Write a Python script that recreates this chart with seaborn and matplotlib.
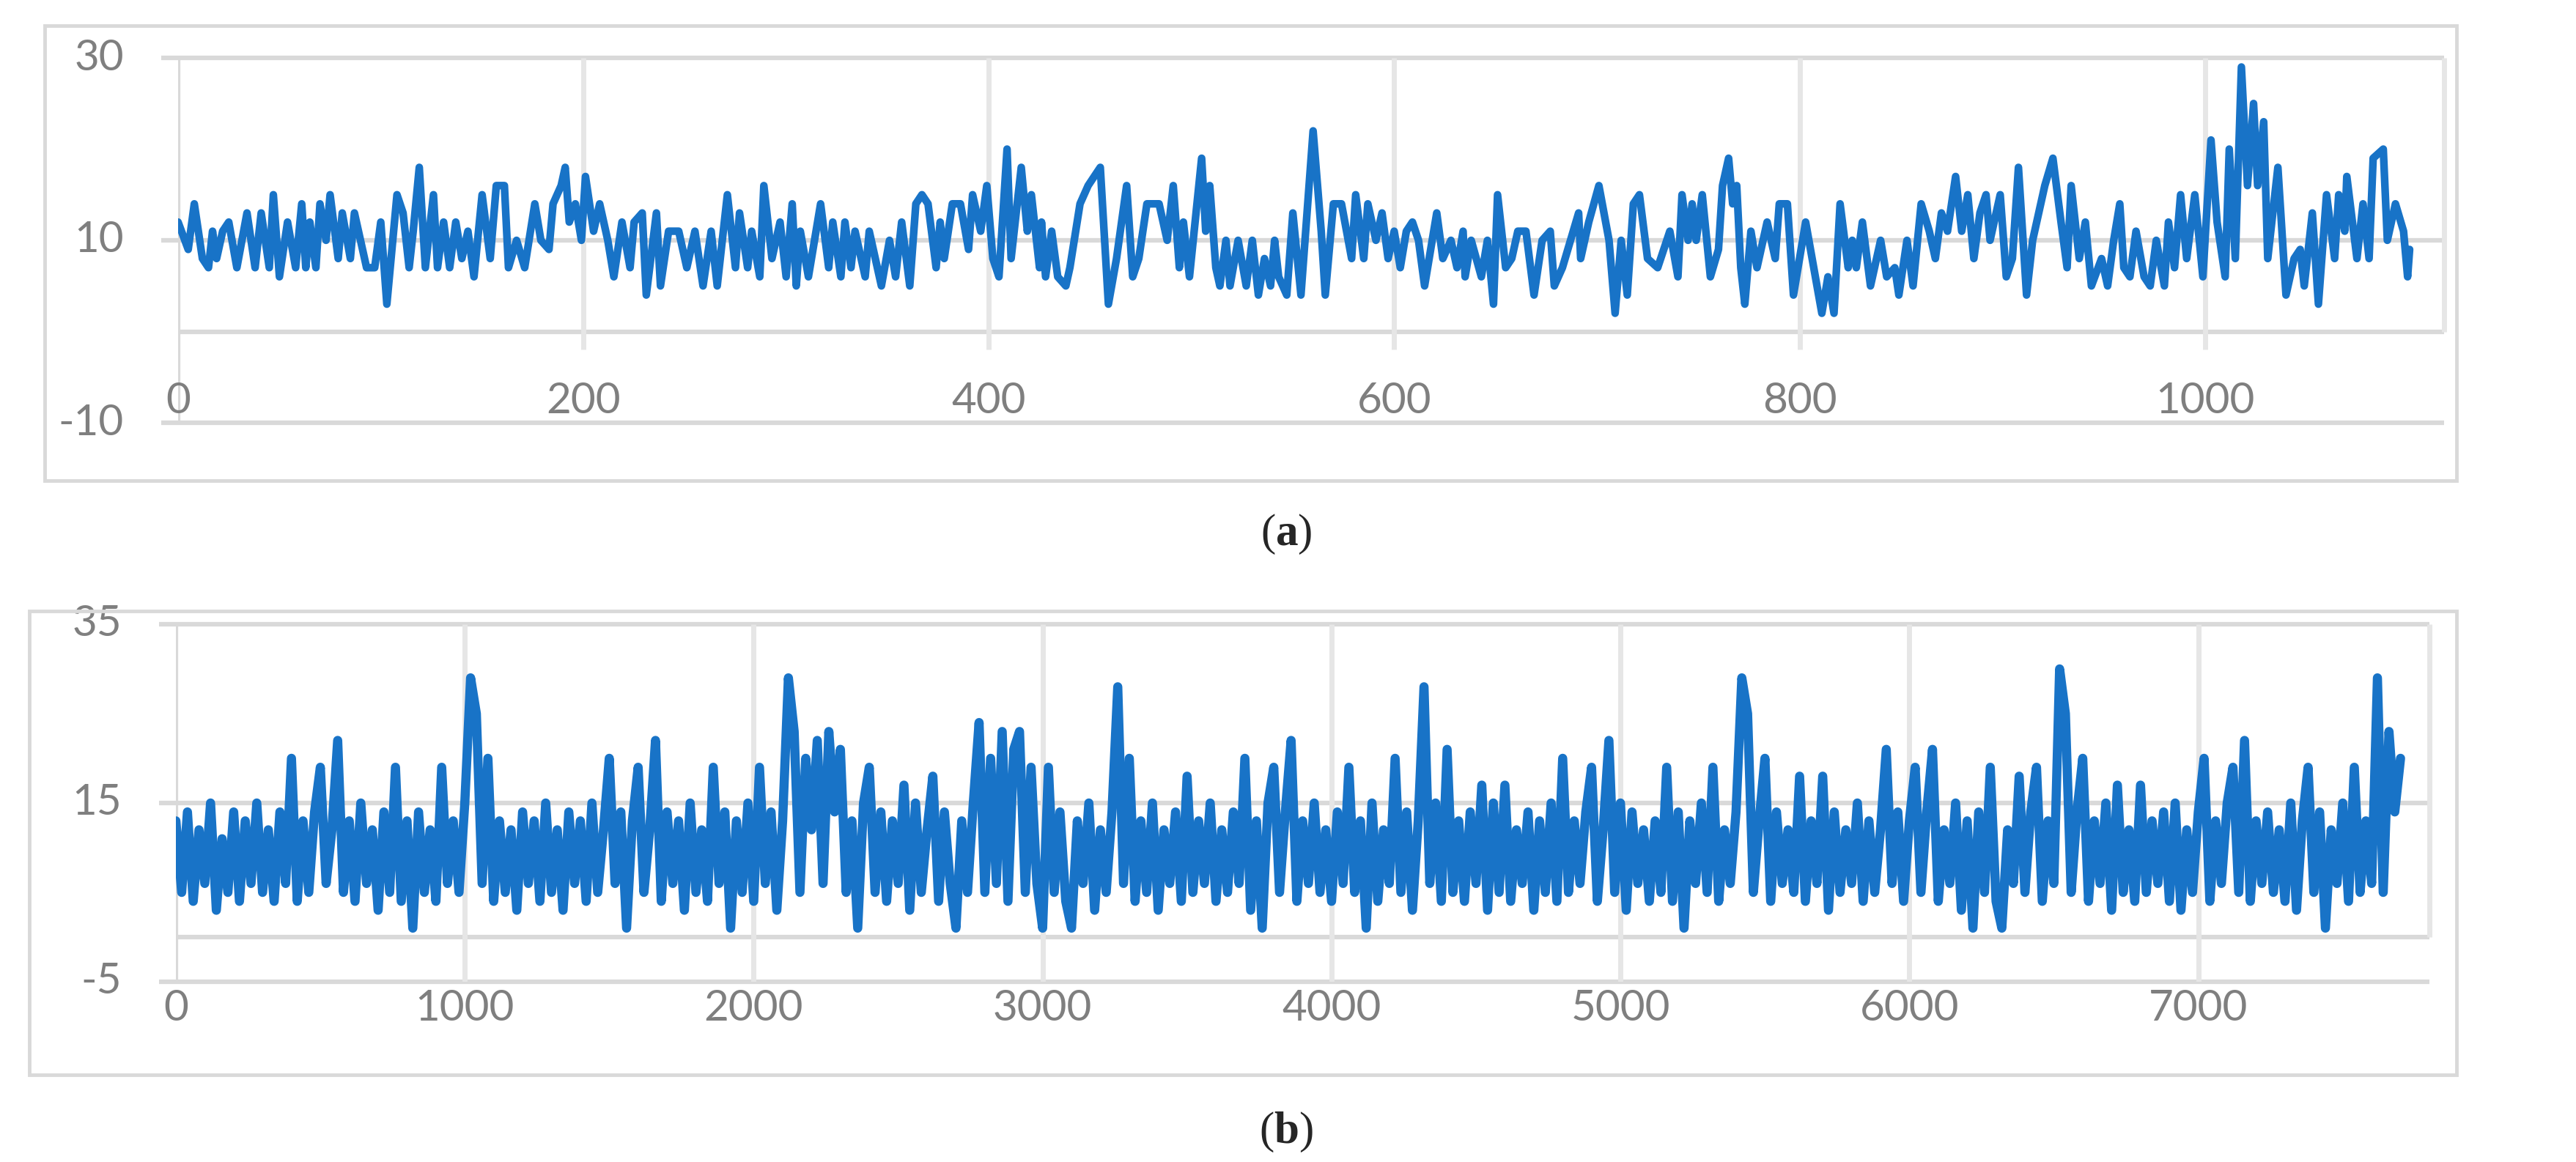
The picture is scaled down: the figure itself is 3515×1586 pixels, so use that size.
import matplotlib
matplotlib.use("Agg")
import matplotlib.pyplot as plt
import seaborn as sns
import pandas as pd

sns.set_style("white")
plt.rcParams['font.family'] = ['Lato', 'DejaVu Sans']
plt.rcParams['mathtext.fontset'] = 'custom'
plt.rcParams['mathtext.rm'] = 'Liberation Serif'
plt.rcParams['mathtext.bf'] = 'Liberation Serif:bold'

# panel (a): values (index, value)
a_t = [0, 5, 8, 12, 15, 17, 19, 22, 25, 29, 34, 38, 41, 45, 47, 50, 54, 58, 61, 63,
       65, 68, 70, 73, 75, 79, 81, 85, 87, 90, 93, 97, 100, 103, 108, 111, 114, 116, 119, 122,
       126, 128, 131, 134, 137, 140, 143, 146, 150, 154, 157, 161, 163, 167, 171, 176, 179, 183, 185, 189,
       191, 193, 196, 199, 201, 205, 208, 212, 215, 219, 223, 225, 229, 231, 236, 238, 242, 247, 251, 255,
       259, 263, 266, 271, 275, 277, 281, 283, 287, 289, 293, 297, 300, 303, 305, 307, 311, 317, 321, 323,
       327, 329, 332, 334, 339, 341, 347, 351, 354, 357, 361, 364, 367, 370, 374,
       376, 378, 382, 386, 390, 392, 396, 399, 402, 405, 409, 411, 416, 419, 421, 425, 426, 428, 431, 434,
       438, 440, 445, 449, 455, 459, 463, 468, 471, 474, 478, 484, 488, 491, 494, 496, 499, 505, 507, 509,
       512, 514, 517, 519, 523, 527, 530, 533, 536, 539, 541, 543, 547, 550, 554, 557, 560, 564, 566, 570,
       574, 579, 581, 585, 587, 591, 594, 597, 600, 603, 606, 609, 612, 615, 621, 624, 628, 631, 634, 635,
       638, 643, 646, 649, 651, 655, 658, 661, 665, 669, 673, 677, 679, 683, 687, 691, 692, 696, 701, 706,
       709, 712, 715, 718, 721, 725, 730, 736, 740, 742, 745, 747, 749, 752, 756, 760, 762, 765, 767, 769,
       771, 773, 776, 779, 784, 788, 790, 794, 797, 803, 807, 811, 814, 817, 820, 824, 826, 828, 831, 835,
       840, 843, 847, 849, 853, 856, 860, 864, 867, 870, 873, 877, 880, 883, 886, 889, 892, 894, 899, 902,
       905, 908, 912, 915, 918, 921, 925, 929, 932, 934, 938, 941, 944, 949, 952, 955, 958, 960, 963, 966,
       970, 973, 976, 980, 982, 985, 988, 991, 995, 999, 1003, 1006, 1010, 1012, 1015, 1018, 1021, 1024, 1026, 1029,
       1031, 1036, 1040, 1044, 1047, 1049, 1053, 1056, 1060, 1064, 1066, 1069, 1070, 1075, 1078, 1081, 1083, 1088, 1090, 1094,
       1098, 1100, 1101]
a_v = [12, 9, 14, 8, 7, 11, 8, 11, 12, 7, 13, 7, 13, 7, 15, 6, 12, 7, 14, 7,
       12, 7, 14, 10, 15, 8, 13, 8, 13, 10, 7, 7, 12, 3, 15, 13, 7, 11, 18, 7,
       15, 7, 12, 7, 12, 8, 11, 6, 15, 8, 16, 16, 7, 10, 7, 14, 10, 9, 14, 16,
       18, 12, 14, 10, 17, 11, 14, 10, 6, 12, 7, 12, 13, 4, 13, 5, 11, 11, 7, 11,
       5, 11, 5, 15, 7, 13, 7, 11, 6, 16, 8, 12, 6, 14, 5, 11, 6, 14, 7, 12,
       6, 12, 7, 11, 6, 11, 5, 10, 6, 12, 5, 14, 15, 14, 7,
       12, 8, 14, 14, 9, 15, 11, 16, 8, 6, 20, 8, 18, 11, 15, 7, 12, 6, 11, 6,
       5, 7, 14, 16, 18, 3, 8, 16, 6, 8, 14, 14, 10, 16, 7, 12, 6, 19, 11, 16,
       7, 5, 10, 5, 10, 5, 10, 4, 8, 5, 10, 6, 4, 13, 4, 13, 22, 11, 4, 14,
       14, 8, 15, 8, 14, 10, 13, 8, 11, 7, 11, 12, 10, 5, 13, 8, 10, 7, 11, 6,
       10, 6, 10, 3, 15, 7, 8, 11, 11, 4, 10, 11, 5, 7, 10, 13, 8, 12, 16, 10,
       2, 10, 4, 14, 15, 8, 7, 11, 6, 15, 10, 14, 10, 15, 6, 9, 16, 19, 14, 16,
       7, 3, 11, 7, 12, 8, 14, 14, 4, 12, 7, 2, 6, 2, 14, 7, 10, 7, 12, 5,
       10, 6, 7, 4, 10, 5, 14, 11, 8, 13, 11, 17, 11, 15, 8, 13, 15, 10, 15, 6,
       8, 18, 4, 10, 13, 16, 19, 12, 7, 16, 8, 12, 5, 8, 5, 10, 14, 7, 6, 11,
       6, 5, 10, 5, 12, 7, 15, 8, 15, 6, 21, 12, 6, 20, 8, 29, 16, 25, 16, 23,
       8, 18, 4, 8, 9, 5, 13, 3, 15, 8, 15, 11, 17, 8, 14, 8, 19, 20, 10, 14,
       11, 6, 9]

# panel (b): one reading every 20 steps
b_step = 20
b_v = [13, 5, 14, 4, 12, 6, 15, 3, 11, 5, 14, 4, 13, 6, 15, 5, 12, 4, 14, 6,
       20, 4, 13, 5, 14, 19, 6, 12, 22, 5, 13, 4, 15, 6, 12, 3, 14, 5, 19, 4,
       13, 1, 14, 5, 12, 4, 19, 6, 13, 5, 15, 29, 25, 6, 20, 4, 13, 5, 12, 3,
       14, 6, 13, 4, 15, 5, 12, 3, 14, 6, 13, 4, 15, 5, 12, 20, 6, 14, 1, 13,
       19, 5, 12, 22, 4, 14, 6, 13, 3, 15, 5, 12, 4, 19, 6, 14, 1, 13, 5, 15,
       4, 19, 6, 14, 3, 13, 29, 23, 5, 20, 12, 22, 6, 23, 14, 21, 5, 13, 1, 15,
       19, 5, 14, 4, 13, 6, 17, 3, 15, 5, 12, 18, 4, 14, 6, 1, 13, 5, 15, 24,
       5, 20, 6, 23, 4, 21, 23, 5, 19, 6, 1, 19, 5, 14, 4, 1, 13, 6, 15, 3,
       12, 5, 14, 28, 6, 20, 4, 13, 5, 15, 3, 12, 6, 14, 4, 18, 5, 13, 6, 15,
       4, 12, 5, 14, 6, 20, 3, 13, 1, 15, 19, 5, 14, 22, 4, 13, 6, 15, 5, 12,
       4, 14, 6, 19, 5, 13, 1, 15, 4, 12, 6, 20, 5, 14, 3, 13, 28, 6, 15, 4,
       21, 5, 13, 4, 14, 6, 17, 3, 15, 5, 17, 4, 12, 6, 14, 3, 13, 5, 15, 4,
       20, 5, 13, 6, 14, 19, 4, 12, 22, 5, 15, 3, 14, 6, 12, 4, 13, 5, 19, 4,
       14, 1, 13, 6, 15, 5, 19, 4, 12, 6, 14, 29, 25, 5, 13, 20, 4, 14, 6, 12,
       5, 18, 4, 13, 6, 18, 3, 14, 5, 12, 6, 15, 4, 13, 5, 12, 21, 6, 14, 4,
       13, 19, 5, 14, 21, 4, 12, 6, 15, 3, 13, 1, 14, 5, 19, 4, 1, 12, 6, 18,
       5, 14, 19, 4, 13, 6, 30, 25, 5, 14, 20, 4, 13, 6, 15, 3, 17, 5, 12, 4,
       17, 5, 13, 6, 14, 4, 15, 3, 12, 5, 14, 20, 4, 13, 6, 15, 19, 5, 22, 4,
       13, 6, 14, 5, 12, 4, 15, 3, 13, 19, 5, 14, 1, 12, 6, 15, 4, 19, 5, 13,
       6, 29, 5, 23, 14, 20]
b_t = [i * b_step for i in range(len(b_v))]

a_xticks = [0, 200, 400, 600, 800, 1000]
a_yticks = [-10, 10, 30]
b_xticks = [0, 1000, 2000, 3000, 4000, 5000, 6000, 7000]
b_yticks = [-5, 15, 35]

line_col = "#1873c7"
grid_h = "#d9d9d9"
grid_v = "#e6e6e6"
lab_col = "#7f7f7f"
W, H = 3516, 1586

fig = plt.figure(figsize=(W / 100, H / 100), dpi=100)

# outer frames
for (x0, y0, x1, y1) in [(61, 35, 3352, 656), (40, 834, 3352, 1467)]:
    fig.patches.append(plt.Rectangle((x0 / W, 1 - y1 / H), (x1 - x0) / W, (y1 - y0) / H,
                                     transform=fig.transFigure, fill=False,
                                     edgecolor=grid_h, linewidth=3.5))


def panel(rect, t, v, xmax, xticks, yticks, xlab_y, vgrid_bottom, lw):
    ax = fig.add_axes(rect)
    ax.set_xlim(0, xmax)
    ax.set_ylim(yticks[0], yticks[-1])
    for s in ax.spines.values():
        s.set_visible(False)
    ax.set_xticks([])
    ax.set_yticks([])
    ext = xmax * 0.0075
    for y in yticks:
        ax.hlines(y, -ext, xmax, color=grid_h, lw=4.5, clip_on=False, zorder=1)
        ax.text(-xmax * 0.024, y, str(y), ha='right', va='center',
                fontsize=42, color=lab_col)
    ax.hlines(0, 0, xmax, color=grid_h, lw=4.5, zorder=1)
    ax.vlines(0, yticks[0], yticks[-1], color=grid_h, lw=4.5, zorder=1)
    for x in xticks[1:]:
        ax.vlines(x, vgrid_bottom, yticks[-1], color=grid_v, lw=5, zorder=1)
    ax.vlines(xmax, 0, yticks[-1], color=grid_v, lw=5, zorder=1, clip_on=False)
    for x in xticks:
        ax.text(x, xlab_y, str(x), ha='center', va='center', fontsize=42,
                color=lab_col, clip_on=False)
    df = pd.DataFrame({'t': t, 'v': v})
    sns.lineplot(data=df, x='t', y='v', ax=ax, color=line_col, linewidth=lw,
                 solid_joinstyle='round', solid_capstyle='round', zorder=3)
    ax.set_xlabel('')
    ax.set_ylabel('')
    return ax


panel([243 / W, 1 - 577 / H, (3335 - 243) / W, (577 - 79) / H],
      a_t, a_v, 1118, a_xticks, a_yticks, -7.6, -2, 7.5)
panel([240 / W, 1 - 1340 / H, (3315 - 240) / W, (1340 - 852) / H],
      b_t, b_v, 7800, b_xticks, b_yticks, -8.0, -5, 9)

fig.text(1755 / W, 1 - 729 / H, r'($\mathbf{a}$)', ha='center', va='center',
         fontsize=44, family='Liberation Serif')
fig.text(1755 / W, 1 - 1545 / H, r'($\mathbf{b}$)', ha='center', va='center',
         fontsize=44, family='Liberation Serif')

fig.savefig("out.png", dpi=100, facecolor="white")
